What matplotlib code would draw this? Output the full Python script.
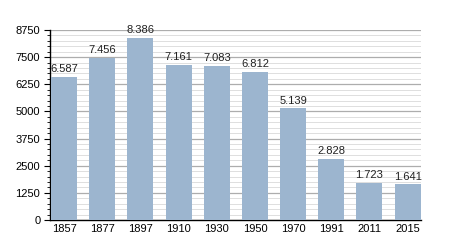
import numpy as np
import matplotlib.pyplot as plt
from matplotlib.ticker import MultipleLocator

years = ["1857", "1877", "1897", "1910", "1930", "1950", "1970", "1991", "2011", "2015"]
population = [6587, 7456, 8386, 7161, 7083, 6812, 5139, 2828, 1723, 1641]
yticks = [0, 1250, 2500, 3750, 5000, 6250, 7500, 8750]

plt.rcParams['font.family'] = ['Liberation Sans', 'DejaVu Sans']

fig = plt.figure(figsize=(4.5, 2.5), dpi=100)
ax = fig.add_axes([50 / 450, 30 / 250, 371 / 450, 190 / 250])

x = np.arange(len(years))
ax.bar(x, population, width=0.68, color="#9cb5cf", zorder=3)

# value labels, german style thousands separator
for xi, v in zip(x, population):
    ax.annotate(f"{v:,}".replace(",", "."), (xi, v), xytext=(0, 2),
                textcoords="offset points", ha="center", va="bottom",
                fontsize=8, color="#222222", zorder=4)

ax.set_xlim(-0.37, 9.35)
ax.set_ylim(0, 8750)
ax.set_xticks(x)
ax.set_xticklabels(years)
ax.set_yticks(yticks)
ax.yaxis.set_minor_locator(MultipleLocator(250))

ax.grid(axis="y", which="major", color="#adadad", linewidth=0.9, zorder=1)
ax.grid(axis="y", which="minor", color="#dedede", linewidth=0.7, zorder=1)

for side in ["top", "right"]:
    ax.spines[side].set_visible(False)
ax.spines["left"].set_linewidth(1.0)
ax.spines["bottom"].set_linewidth(1.0)

ax.tick_params(axis="y", which="major", length=4, width=0.8, labelsize=8, pad=3)
ax.tick_params(axis="y", which="minor", length=2.5, width=0.6)
ax.tick_params(axis="x", length=0, labelsize=8, pad=3)

fig.savefig("out.png", dpi=100)
